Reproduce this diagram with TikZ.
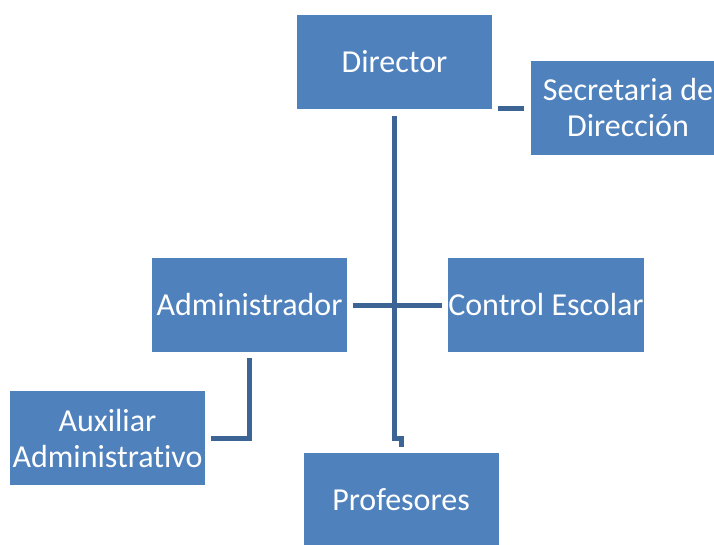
\documentclass[tikz,border=0pt]{standalone}
\usepackage{fontspec}
\setmainfont{Carlito}[Ligatures=NoCommon]
\usetikzlibrary{positioning}
\definecolor{boxblue}{HTML}{4F81BD}
\definecolor{lineblue}{HTML}{3C6595}
\begin{document}
\begin{tikzpicture}[x=1pt,y=-1pt,
        puesto/.style={fill=boxblue,text=white,minimum width=195pt,minimum height=94pt,
          inner sep=0pt,align=center,font=\fontsize{32}{36}\selectfont},
        enlace/.style={draw=lineblue,line width=5pt}]
  \useasboundingbox (0,0) rectangle (714,544);
  \clip (0,0) rectangle (714,544);
  \node[puesto] (dir) at (394.5,61.5) {Director};
  \node[puesto] (secre) at (628,107.5) {Secretaria de\\Dirección};
  \node[puesto] (admin) at (249.5,305) {Administrador};
  \node[puesto] (control) at (546,305) {Control Escolar};
  \node[puesto] (aux) at (107.5,438) {Auxiliar\\Administrativo};
  \node[puesto] (prof) at (401,500) {Profesores};

  \path[enlace] ([xshift=6pt]dir.south east) -- ([xshift=-6pt]secre.west |- dir.south east);
  \path[enlace] ([yshift=-7pt]dir.south) -- ++(0,323) -| ([yshift=6pt]prof.north);
  \path[enlace] ([xshift=6pt]admin.east) -- ([xshift=-6pt]control.west);
  \path[enlace] ([yshift=-6pt]admin.south) |- ([xshift=6pt]aux.east);
\end{tikzpicture}
\end{document}
